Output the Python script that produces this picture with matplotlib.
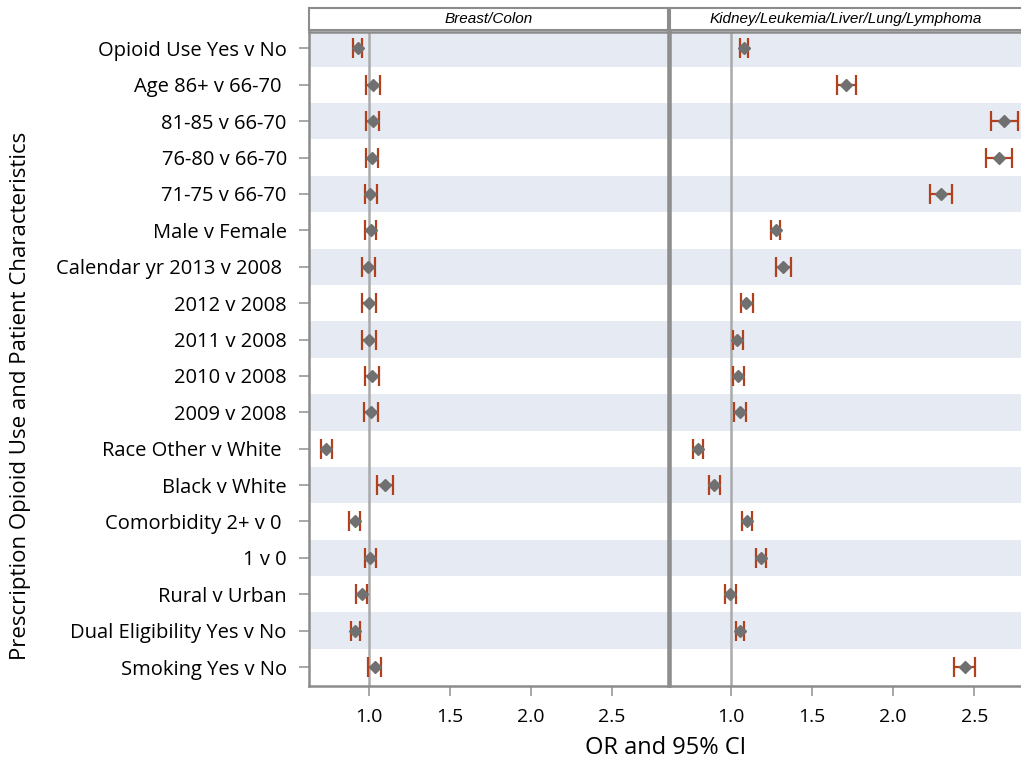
"""Forest plot of odds ratios for prescription opioid use, two cancer groups."""
import matplotlib

matplotlib.use("Agg")
import matplotlib.pyplot as plt

labels = [
    "Opioid Use Yes v No",
    "Age 86+ v 66-70 ",
    "81-85 v 66-70",
    "76-80 v 66-70",
    "71-75 v 66-70",
    "Male v Female",
    "Calendar yr 2013 v 2008 ",
    "2012 v 2008",
    "2011 v 2008",
    "2010 v 2008",
    "2009 v 2008",
    "Race Other v White ",
    "Black v White",
    "Comorbidity 2+ v 0 ",
    "1 v 0",
    "Rural v Urban",
    "Dual Eligibility Yes v No",
    "Smoking Yes v No",
]

panel_titles = ["Breast/Colon", "Kidney/Leukemia/Liver/Lung/Lymphoma"]

# Breast/Colon
or_bc = [0.933, 1.026, 1.026, 1.022, 1.010, 1.012, 0.994, 1.002, 1.002,
         1.018, 1.014, 0.735, 1.100, 0.913, 1.010, 0.958, 0.917, 1.036]
lo_bc = [0.900, 0.986, 0.986, 0.984, 0.974, 0.978, 0.956, 0.960, 0.960,
         0.974, 0.970, 0.707, 1.050, 0.880, 0.978, 0.921, 0.889, 0.996]
hi_bc = [0.960, 1.067, 1.065, 1.059, 1.048, 1.046, 1.038, 1.044, 1.044,
         1.061, 1.057, 0.770, 1.150, 0.945, 1.042, 0.992, 0.947, 1.077]

# Kidney/Leukemia/Liver/Lung/Lymphoma
or_kl = [1.079, 1.709, 2.683, 2.650, 2.297, 1.275, 1.322, 1.095, 1.038,
         1.042, 1.053, 0.796, 0.895, 1.097, 1.182, 0.994, 1.055, 2.445]
lo_kl = [1.053, 1.651, 2.601, 2.572, 2.229, 1.247, 1.277, 1.059, 1.010,
         1.010, 1.016, 0.768, 0.863, 1.067, 1.152, 0.962, 1.028, 2.373]
hi_kl = [1.107, 1.770, 2.771, 2.733, 2.360, 1.303, 1.370, 1.133, 1.075,
         1.079, 1.091, 0.826, 0.933, 1.127, 1.214, 1.030, 1.081, 2.506]

xticks = [1.0, 1.5, 2.0, 2.5]

BAND = "#E6EAF3"
FRAME = "#8C8C8C"
CI_COLOR = "#B3401D"
POINT = "#707070"
REF = "#AAAAAA"

W, H = 1021, 766
fig = plt.figure(figsize=(W / 100, H / 100), dpi=100)


def px(x0, y0, x1, y1):
    """Pixel box (top-left origin) to figure fraction rect."""
    return [x0 / W, 1 - y1 / H, (x1 - x0) / W, (y1 - y0) / H]


panels = [
    (px(309, 32, 668, 686), (0.631, 2.848), or_bc, lo_bc, hi_bc),
    (px(670, 32, 1021, 686), (0.624, 2.788), or_kl, lo_kl, hi_kl),
]
strips = [px(309, 8, 668, 30), px(670, 8, 1021, 30)]

rows = list(range(len(labels)))
axes = []
for i, (rect, xlim, est, lo, hi) in enumerate(panels):
    ax = fig.add_axes(rect)
    axes.append(ax)
    for r in rows:
        if r % 2 == 0:
            ax.axhspan(r - 0.5, r + 0.5, color=BAND, lw=0, zorder=0)
    ax.axvline(1.0, color=REF, lw=1.8, zorder=1)
    xerr = [[e - l for e, l in zip(est, lo)], [h - e for e, h in zip(est, hi)]]
    ax.errorbar(est, rows, xerr=xerr, fmt="none", ecolor=CI_COLOR,
                elinewidth=1.6, capsize=7.5, capthick=1.6, zorder=2)
    ax.plot(est, rows, "D", color=POINT, ms=6, mec=POINT, zorder=3)

    ax.set_xlim(*xlim)
    ax.set_ylim(len(labels) - 0.48, -0.45)
    ax.set_xticks(xticks)
    ax.set_xticklabels([f"{t:.1f}" for t in xticks], fontsize=14,
                       family="Open Sans")
    ax.tick_params(axis="x", length=7, width=1.3, color="#A0A0A0", pad=9)
    ax.set_yticks(rows)
    if i == 0:
        ax.set_yticklabels(labels, fontsize=14.5, family="Open Sans")
        ax.tick_params(axis="y", length=7, width=1.3, color="#A0A0A0", pad=9)
    else:
        ax.tick_params(axis="y", left=False, labelleft=False)
    for side, sp in ax.spines.items():
        sp.set_color(FRAME)
        sp.set_linewidth(1.8)
    if i == 1:
        ax.spines["right"].set_visible(False)

    sax = fig.add_axes(strips[i])
    sax.set_xticks([])
    sax.set_yticks([])
    for sp in sax.spines.values():
        sp.set_color(FRAME)
        sp.set_linewidth(1.5)
    if i == 1:
        sax.spines["right"].set_visible(False)
    sax.text(0.5, 0.5, panel_titles[i], transform=sax.transAxes,
             ha="center", va="center", fontsize=11, style="italic",
             family="Liberation Sans")

fig.text(21 / W, 1 - 396 / H, "Prescription Opioid Use and Patient Characteristics",
         rotation=90, ha="center", va="center", fontsize=16, family="Open Sans")
fig.text(666 / W, 1 - 748 / H, "OR and 95% CI", ha="center", va="center",
         fontsize=17, family="Open Sans")

fig.savefig("out.png", dpi=100)
